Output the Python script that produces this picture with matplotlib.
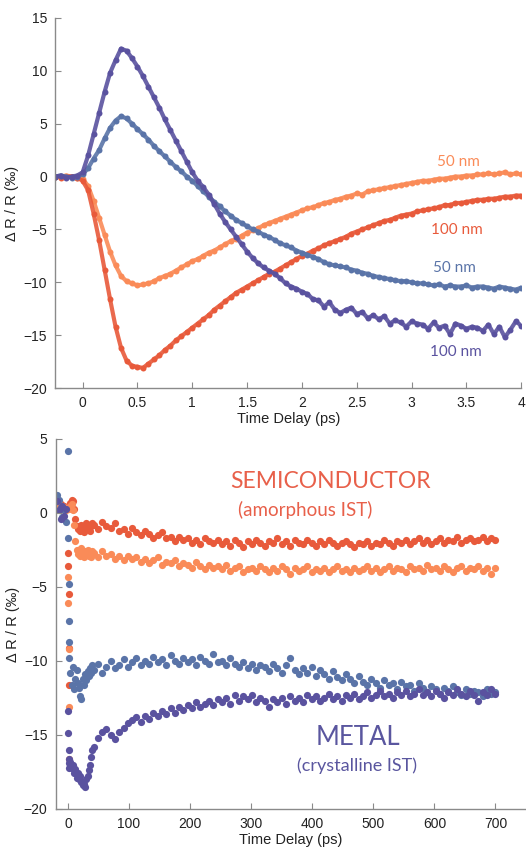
import numpy as np
import matplotlib
matplotlib.use('Agg')
import matplotlib.pyplot as plt
from matplotlib.ticker import FormatStrFormatter

plt.rcParams['font.family'] = ['Liberation Sans', 'DejaVu Sans']

# ---------- top panel: short delays (ps), sampled every 0.05 ps ----------
t_short = np.linspace(-0.25, 4.0, 86)

semi_50 = [0.0, 0.0, 0.1, 0.0, -0.1, -0.2, -0.9, -2.3, -3.9, -5.5,
           -7.1, -8.4, -9.4, -9.9, -10.1, -10.3, -10.2, -10.1, -9.9, -9.6,
           -9.4, -9.2, -8.9, -8.6, -8.3, -8.0, -7.8, -7.5, -7.2, -7.0,
           -6.7, -6.4, -6.1, -5.9, -5.6, -5.3, -5.1, -4.9, -4.6, -4.4,
           -4.2, -4.0, -3.8, -3.6, -3.4, -3.2, -3.0, -2.9, -2.7, -2.5,
           -2.4, -2.2, -2.1, -1.9, -1.8, -1.6, -1.7, -1.4, -1.3, -1.2,
           -1.1, -1.0, -0.9, -0.8, -0.7, -0.6, -0.5, -0.4, -0.4, -0.3,
           -0.2, -0.2, -0.1, 0.0, 0.0, 0.1, 0.1, 0.2, 0.2, 0.3,
           0.2, 0.3, 0.4, 0.2, 0.3, 0.2]

semi_100 = [0.0, -0.1, 0.0, 0.0, -0.1, -0.4, -1.3, -3.5, -6.0, -8.8,
            -11.6, -14.2, -16.2, -17.4, -17.9, -18.0, -18.1, -17.7, -17.3, -16.9,
            -16.4, -16.0, -15.5, -15.1, -14.7, -14.3, -13.9, -13.5, -13.1, -12.6,
            -12.2, -11.8, -11.4, -11.0, -10.7, -10.4, -10.1, -9.8, -9.5, -9.2,
            -9.0, -8.7, -8.4, -8.1, -7.8, -7.5, -7.3, -7.0, -6.8, -6.5,
            -6.3, -6.1, -5.9, -5.7, -5.4, -5.2, -5.0, -4.8, -4.6, -4.4,
            -4.2, -4.1, -3.9, -3.7, -3.6, -3.5, -3.3, -3.2, -3.1, -3.0,
            -2.9, -2.7, -2.7, -2.5, -2.5, -2.4, -2.3, -2.2, -2.2, -2.1,
            -2.1, -2.0, -1.9, -1.9, -1.8, -1.8]

metal_50 = [0.0, 0.1, 0.0, -0.1, 0.0, 0.2, 0.8, 1.7, 2.5, 3.6,
            4.6, 5.3, 5.7, 5.5, 5.0, 4.5, 4.0, 3.5, 2.9, 2.4,
            1.9, 1.4, 0.9, 0.5, 0.0, -0.4, -0.9, -1.4, -1.9, -2.4,
            -2.8, -3.3, -3.7, -4.1, -4.4, -4.7, -5.0, -5.2, -5.5, -5.7,
            -6.0, -6.3, -6.5, -6.7, -7.0, -7.2, -7.4, -7.6, -7.8, -8.1,
            -8.3, -8.4, -8.5, -8.6, -8.8, -8.9, -9.1, -9.2, -9.4, -9.5,
            -9.6, -9.7, -9.8, -9.9, -9.9, -10.0, -10.1, -10.1, -10.2, -10.3,
            -10.2, -10.4, -10.3, -10.4, -10.4, -10.3, -10.5, -10.4, -10.4, -10.5,
            -10.6, -10.4, -10.5, -10.6, -10.7, -10.5]

metal_100 = [0.0, 0.1, -0.1, 0.0, 0.1, 0.4, 2.0, 4.0, 6.0, 8.0,
             9.8, 11.0, 12.1, 11.9, 11.2, 10.4, 9.5, 8.5, 7.5, 6.5,
             5.4, 4.4, 3.4, 2.4, 1.4, 0.4, -0.4, -1.0, -1.7, -2.6,
             -3.5, -4.3, -5.0, -5.7, -6.4, -7.1, -7.7, -8.2, -8.6, -8.9,
             -9.2, -9.6, -10.1, -10.4, -10.6, -10.9, -11.1, -11.6, -11.7, -12.3,
             -11.9, -12.6, -12.9, -12.6, -12.4, -13.0, -12.8, -13.4, -13.1, -13.5,
             -13.2, -13.9, -13.6, -13.8, -14.2, -13.7, -13.9, -14.0, -14.4, -13.8,
             -14.3, -14.1, -14.9, -13.9, -14.1, -14.4, -14.2, -14.3, -14.6, -14.0,
             -14.9, -14.2, -15.2, -14.5, -13.7, -14.1]

# ---------- bottom panel: long delays (ps) ----------
t_pre = [-18, -15, -12, -9, -6, -3]
t_spike = [0, 0.5, 1, 1.5, 2, 2.5]
t_early = list(range(4, 41, 2))
t_main = list(range(42, 701, 7))
t_long = np.array(t_pre + t_spike + t_early + t_main, dtype=float)

long_semi_100 = [0.5, 0.3, 0.6, 0.4, 0.5, 0.3,
                 -2.7, -3.6, -5.5, -9.1, -11.6, 0.4,
                 0.7, 0.9, 0.8, 0.3, -0.4, -0.9, -1.1, -0.9, -1.2, -0.8,
                 -1.0, -1.3, -0.9, -0.7, -1.1, -0.8, -1.2, -0.9, -0.7,
                 -0.8, -1.1, -0.6, -0.9, -1.0, -0.7, -1.2, -1.1, -1.4, -1.0,
                 -1.3, -1.5, -1.2, -1.4, -1.7, -1.5, -1.3, -1.7, -1.6, -1.9,
                 -1.6, -1.8, -1.7, -2.0, -1.8, -2.1, -1.7, -1.9, -2.0, -1.8,
                 -2.1, -1.9, -2.2, -1.8, -2.0, -2.3, -1.9, -2.1, -1.8, -2.0,
                 -2.2, -1.9, -2.0, -1.7, -2.1, -1.9, -2.2, -1.8, -2.0, -2.1,
                 -1.8, -2.0, -2.2, -1.9, -2.1, -1.8, -2.0, -2.2, -2.0, -1.9,
                 -2.1, -2.3, -2.0, -2.1, -1.9, -2.2, -2.0, -2.1, -1.8, -2.0,
                 -2.2, -1.9, -2.0, -1.8, -2.1, -1.9, -1.7, -2.0, -1.8, -2.1,
                 -1.9, -1.7, -2.0, -1.8, -1.9, -1.6, -2.0, -1.8, -1.7, -1.9,
                 -1.8, -1.6, -1.9, -1.7, -1.8]

long_semi_50 = [0.4, 0.6, 0.3, 0.5, 0.4, 0.2,
                -4.3, -6.1, -9.2, -13.1, -16.6, 0.3,
                0.5, 0.6, 0.2, -0.8, -1.9, -2.5, -2.8, -2.6, -2.9, -2.4,
                -2.7, -3.0, -2.6, -2.8, -2.5, -2.9, -2.7, -3.0, -2.6,
                -2.7, -3.0, -2.6, -2.9, -2.8, -3.1, -2.9, -3.2, -2.9, -3.1,
                -3.0, -3.3, -3.1, -3.4, -3.2, -3.0, -3.5, -3.3, -3.4, -3.2,
                -3.6, -3.4, -3.5, -3.7, -3.3, -3.6, -3.8, -3.5, -3.7, -3.6,
                -3.8, -3.5, -3.9, -3.7, -3.6, -4.0, -3.8, -3.7, -3.9, -3.6,
                -3.8, -4.0, -3.7, -3.9, -3.6, -3.8, -4.1, -3.7, -3.9, -3.8,
                -3.6, -4.0, -3.8, -3.9, -3.7, -4.0, -3.8, -3.6, -3.9, -3.8,
                -4.0, -3.7, -3.9, -3.8, -3.6, -3.9, -3.7, -4.0, -3.8, -3.6,
                -3.9, -3.7, -3.8, -4.0, -3.6, -3.8, -3.7, -3.9, -3.5, -3.8,
                -3.7, -3.9, -3.6, -3.8, -4.0, -3.7, -3.6, -3.9, -3.7, -3.8,
                -3.6, -3.9, -3.7, -4.1, -3.7]

long_metal_50 = [1.2, 0.9, 0.4, -0.3, 0.2, -0.6,
                 4.2, -1.7, -4.8, -7.3, -8.7, -9.8,
                 -10.8, -11.6, -10.4, -11.9, -11.2, -10.6, -11.5, -11.8, -12.4, -12.6,
                 -11.2, -11.6, -10.9, -11.3, -10.7, -11.0, -10.5, -10.8, -10.3,
                 -10.6, -10.2, -10.8, -10.4, -10.0, -10.5, -10.3, -9.9, -10.4, -10.1,
                 -9.8, -10.3, -10.0, -10.2, -9.7, -10.1, -9.9, -10.3, -9.6, -10.0,
                 -10.2, -9.8, -10.1, -9.9, -10.3, -9.7, -10.0, -10.2, -9.5, -10.1,
                 -10.0, -10.3, -9.8, -10.2, -10.4, -10.1, -10.5, -10.2, -10.6, -10.3,
                 -10.4, -10.7, -10.2, -10.5, -10.8, -10.3, -9.8, -10.6, -10.9, -10.5,
                 -10.8, -10.4, -11.0, -10.6, -10.9, -11.2, -10.7, -11.1, -11.3, -10.9,
                 -11.2, -11.5, -11.0, -11.4, -11.6, -11.2, -11.5, -11.8, -11.3, -11.6,
                 -11.5, -11.9, -11.4, -11.7, -11.6, -12.0, -11.5, -11.8, -12.1, -11.7,
                 -11.9, -12.2, -11.8, -12.0, -11.7, -12.1, -12.3, -11.9, -12.2, -12.0,
                 -12.1, -12.4, -11.9, -12.2, -12.1]

long_metal_100 = [0.8, 0.2, -0.4, 0.5, -0.2, 0.3,
                  -13.4, -14.9, -16.0, -16.6, -16.9, -17.2,
                  -16.8, -17.2, -17.0, -17.6, -17.3, -17.9, -17.6, -18.0, -17.8, -18.2,
                  -18.4, -18.3, -18.5, -18.0, -17.8, -17.4, -17.0, -16.5, -16.0,
                  -15.8, -15.2, -14.8, -14.6, -15.0, -15.3, -14.8, -14.5, -14.2, -14.0,
                  -13.8, -14.1, -13.7, -13.9, -13.5, -13.7, -13.4, -13.6, -13.2, -13.5,
                  -13.1, -13.3, -13.0, -13.2, -12.8, -13.1, -12.9, -12.7, -13.0, -12.6,
                  -12.8, -12.5, -12.9, -12.3, -12.7, -12.4, -12.6, -12.3, -12.8, -12.5,
                  -12.7, -13.1, -12.6, -12.8, -12.5, -12.9, -12.4, -12.7, -12.5, -12.8,
                  -12.3, -12.6, -12.4, -12.7, -12.5, -12.2, -12.6, -12.4, -12.7, -12.3,
                  -12.5, -12.2, -12.6, -12.4, -12.1, -12.5, -12.3, -12.0, -12.4, -12.2,
                  -12.5, -12.1, -12.3, -12.0, -12.4, -12.2, -11.9, -12.3, -12.1, -12.4,
                  -12.0, -12.2, -12.5, -12.1, -12.3, -11.9, -12.2, -12.4, -12.0, -12.3,
                  -12.7, -12.1, -12.3, -11.9, -12.2]

c_semi_50 = '#fa8b58'
c_semi_100 = '#e85a3b'
c_metal_50 = '#5a74a8'
c_metal_100 = '#5a529f'
label_font = ['Lato', 'DejaVu Sans']

fig = plt.figure(figsize=(5.26, 8.52), dpi=100)
ax1 = fig.add_axes([0.105, 0.5446, 0.886, 0.4343])
ax2 = fig.add_axes([0.106, 0.0505, 0.894, 0.4343])

for ax in (ax1, ax2):
    for s in ('top', 'right'):
        ax.spines[s].set_visible(False)
    for s in ('left', 'bottom'):
        ax.spines[s].set_color('#8a8a8a')
        ax.spines[s].set_linewidth(1.0)
    ax.tick_params(direction='in', length=4, color='#8a8a8a', labelsize=10,
                   labelcolor='#222222', pad=6)
    ax.set_ylabel('Δ R / R (‰)', fontsize=10.5, color='#222222', labelpad=3)
    ax.set_xlabel('Time Delay (ps)', fontsize=10.5, color='#222222', labelpad=1)

# top panel
for vals, c in ((semi_50, c_semi_50), (semi_100, c_semi_100),
                (metal_50, c_metal_50), (metal_100, c_metal_100)):
    ax1.plot(t_short, vals, '-', color=c, lw=3.0, alpha=0.9, solid_capstyle='round')
    ax1.plot(t_short, vals, 'o', color=c, ms=4.3, mew=0)
ax1.set_xlim(-0.25, 4.0)
ax1.set_ylim(-20, 15)
ax1.set_xticks(np.arange(0, 4.01, 0.5))
ax1.set_yticks(np.arange(-20, 16, 5))
ax1.xaxis.set_major_formatter(FormatStrFormatter('%g'))

ax1.text(3.43, 1.4, '50 nm', color=c_semi_50, fontsize=11, ha='center', va='center', family=label_font)
ax1.text(3.41, -5.05, '100 nm', color=c_semi_100, fontsize=11, ha='center', va='center', family=label_font)
ax1.text(3.39, -8.65, '50 nm', color=c_metal_50, fontsize=11, ha='center', va='center', family=label_font)
ax1.text(3.40, -16.6, '100 nm', color=c_metal_100, fontsize=11, ha='center', va='center', family=label_font)

# bottom panel
for vals, c in ((long_semi_100, c_semi_100), (long_semi_50, c_semi_50),
                (long_metal_50, c_metal_50), (long_metal_100, c_metal_100)):
    ax2.scatter(t_long, vals, s=27, color=c, linewidths=0)
ax2.set_xlim(-20, 750)
ax2.set_ylim(-20, 5)
ax2.set_xticks(np.arange(0, 701, 100))
ax2.set_yticks(np.arange(-20, 6, 5))

ax2.text(430, 2.1, 'SEMICONDUCTOR', color='#e8604a', fontsize=16.5, ha='center', va='center', family=label_font)
ax2.text(389, 0.2, '(amorphous IST)', color='#e8604a', fontsize=13.5, ha='center', va='center', family=label_font)
ax2.text(475, -15.2, 'METAL', color='#5a569f', fontsize=18.5, ha='center', va='center', family=label_font)
ax2.text(474, -17.1, '(crystalline IST)', color='#5a569f', fontsize=13, ha='center', va='center', family=label_font)

fig.savefig('out.png', dpi=100)
